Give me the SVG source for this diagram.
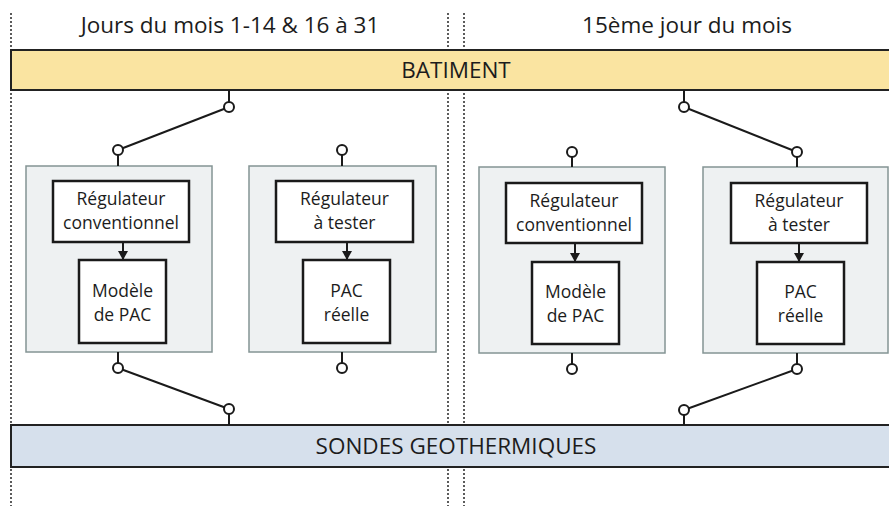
<svg xmlns="http://www.w3.org/2000/svg" width="889" height="506" viewBox="0 0 889 506">
<style>
.t{font-family:"Open Sans","Noto Sans",sans-serif;fill:#1c1c1c;text-anchor:middle}
.big{font-size:22.5px}
.sm{font-size:17.5px}
.dash{stroke:#333;stroke-width:1.6;stroke-dasharray:2 2;fill:none}
.bar{stroke:#222;stroke-width:2}
.panel{fill:#eef1f2;stroke:#849494;stroke-width:1.5}
.box{fill:#fff;stroke:#1a1a1a;stroke-width:2.5}
.w{stroke:#1a1a1a;stroke-width:2;fill:none}
.c{fill:#fff;stroke:#1a1a1a;stroke-width:2}
</style>
<defs>
<marker id="ah" markerWidth="10" markerHeight="10" refX="8" refY="5" orient="auto" markerUnits="userSpaceOnUse">
<path d="M0,0 L9,5 L0,10 z" fill="#1a1a1a"/>
</marker>
</defs>
<rect width="889" height="506" fill="#fff"/>
<g id="separators">
<line class="dash" x1="11" y1="13" x2="11" y2="506"/>
<line class="dash" x1="448" y1="13" x2="448" y2="506"/>
<line class="dash" x1="464" y1="13" x2="464" y2="506"/>
</g>
<g id="titles">
<text class="t big" x="230" y="33">Jours du mois 1-14 &amp; 16 à 31</text>
<text class="t big" x="687" y="33">15ème jour du mois</text>
</g>
<g id="batiment">
<rect class="bar" x="11" y="50" width="880" height="40" fill="#fae4a1"/>
<text class="t big" x="456" y="78">BATIMENT</text>
</g>
<g id="sondes">
<rect class="bar" x="11" y="425" width="880" height="42" fill="#d6e0ec"/>
<text class="t big" x="456" y="454">SONDES GEOTHERMIQUES</text>
</g>
<g id="panel-left-conv">
<rect class="panel" x="26" y="166" width="186" height="186"/>
<rect class="box" x="53" y="181" width="136" height="61"/>
<text class="t sm" x="121" y="205">Régulateur</text>
<text class="t sm" x="121" y="229">conventionnel</text>
<rect class="box" x="79" y="260" width="87" height="83"/>
<text class="t sm" x="122.5" y="297">Modèle</text>
<text class="t sm" x="122.5" y="321">de PAC</text>
</g>
<g id="panel-left-test">
<rect class="panel" x="249" y="166" width="187" height="186"/>
<rect class="box" x="276" y="181" width="137" height="61"/>
<text class="t sm" x="344.5" y="205">Régulateur</text>
<text class="t sm" x="344.5" y="229">à tester</text>
<rect class="box" x="303" y="260" width="87" height="83"/>
<text class="t sm" x="346.5" y="297">PAC</text>
<text class="t sm" x="346.5" y="321">réelle</text>
</g>
<g id="panel-right-conv">
<rect class="panel" x="479" y="167" width="186" height="186"/>
<rect class="box" x="506" y="183" width="136" height="60"/>
<text class="t sm" x="574" y="207">Régulateur</text>
<text class="t sm" x="574" y="231">conventionnel</text>
<rect class="box" x="532" y="262" width="87" height="82"/>
<text class="t sm" x="575.5" y="298">Modèle</text>
<text class="t sm" x="575.5" y="322">de PAC</text>
</g>
<g id="panel-right-test">
<rect class="panel" x="703" y="167" width="185" height="186"/>
<rect class="box" x="731" y="183" width="136" height="60"/>
<text class="t sm" x="799" y="207">Régulateur</text>
<text class="t sm" x="799" y="231">à tester</text>
<rect class="box" x="757" y="262" width="87" height="82"/>
<text class="t sm" x="800.5" y="298">PAC</text>
<text class="t sm" x="800.5" y="322">réelle</text>
</g>
<g id="connectors">
<line class="w" x1="123" y1="243" x2="123" y2="259" marker-end="url(#ah)"/>
<line class="w" x1="347" y1="243" x2="347" y2="259" marker-end="url(#ah)"/>
<line class="w" x1="575" y1="244" x2="575" y2="261" marker-end="url(#ah)"/>
<line class="w" x1="799" y1="244" x2="799" y2="261" marker-end="url(#ah)"/>
<line class="w" x1="229" y1="90" x2="229" y2="102"/>
<line class="w" x1="229" y1="107" x2="118" y2="150"/>
<line class="w" x1="118" y1="155" x2="118" y2="166"/>
<circle class="c" cx="229" cy="107" r="5"/>
<circle class="c" cx="118" cy="150" r="5"/>
<line class="w" x1="342" y1="155" x2="342" y2="166"/>
<circle class="c" cx="342" cy="150" r="5"/>
<line class="w" x1="118" y1="352" x2="118" y2="363"/>
<line class="w" x1="118" y1="368" x2="229" y2="409"/>
<line class="w" x1="229" y1="414" x2="229" y2="425"/>
<circle class="c" cx="118" cy="368" r="5"/>
<circle class="c" cx="229" cy="409" r="5"/>
<line class="w" x1="342" y1="352" x2="342" y2="363"/>
<circle class="c" cx="342" cy="368" r="5"/>
<line class="w" x1="684" y1="90" x2="684" y2="102"/>
<line class="w" x1="684" y1="107" x2="797" y2="152"/>
<line class="w" x1="797" y1="157" x2="797" y2="167"/>
<circle class="c" cx="684" cy="107" r="5"/>
<circle class="c" cx="797" cy="152" r="5"/>
<line class="w" x1="572" y1="157" x2="572" y2="167"/>
<circle class="c" cx="572" cy="152" r="5"/>
<line class="w" x1="572" y1="353" x2="572" y2="364"/>
<circle class="c" cx="572" cy="369" r="5"/>
<line class="w" x1="797" y1="353" x2="797" y2="364"/>
<line class="w" x1="797" y1="369" x2="684" y2="410"/>
<line class="w" x1="684" y1="415" x2="684" y2="425"/>
<circle class="c" cx="797" cy="369" r="5"/>
<circle class="c" cx="684" cy="410" r="5"/>
</g>
</svg>
